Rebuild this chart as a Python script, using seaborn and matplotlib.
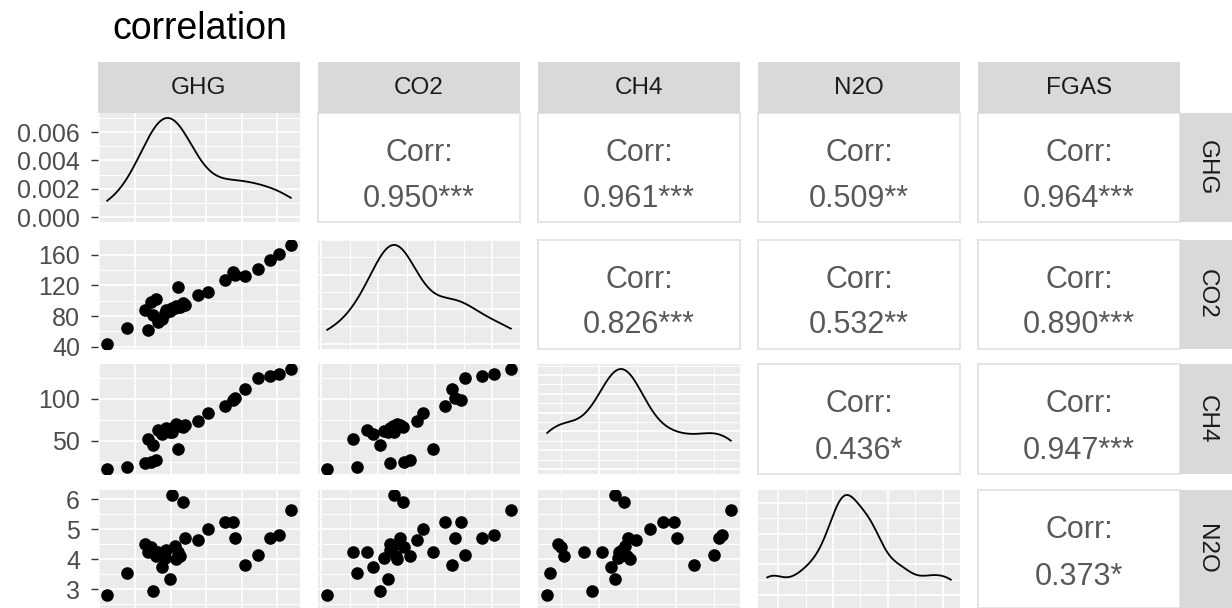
import numpy as np
import pandas as pd
import matplotlib
matplotlib.use("Agg")
import matplotlib.pyplot as plt
from matplotlib.ticker import (MultipleLocator, AutoMinorLocator, MaxNLocator,
                               NullLocator, FormatStrFormatter)
import seaborn as sns

# ---- data: one entry per observation ----
ghg = [111, 139, 164, 169, 172, 175, 179, 182, 188, 192, 194, 199, 202, 206, 208,
       211, 213, 218, 220, 239, 253, 276, 288, 291, 305, 323, 340, 352, 369]
co2 = [44, 65, 88, 62, 98, 81, 102, 72, 76, 84, 88, 87, 91, 90, 93,
       118, 92, 97, 95, 107, 111, 127, 138, 134, 132, 141, 153, 161, 173]
ch4 = [16, 18, 23, 52, 25, 45, 27, 63, 58, 62, 65, 60, 60, 67, 70,
       40, 68, 66, 69, 74, 83, 92, 99, 101, 112, 125, 128, 130, 136]
n2o = [2.80, 3.55, 4.50, 4.25, 4.40, 2.95, 4.10, 4.25, 3.75, 4.05, 4.30, 3.35, 6.15, 4.45, 4.00,
       4.25, 4.10, 5.90, 4.70, 4.65, 5.00, 5.25, 5.25, 4.70, 3.80, 4.15, 4.70, 4.80, 5.65]

row_vars = ["GHG", "CO2", "CH4", "N2O"]
col_vars = ["GHG", "CO2", "CH4", "N2O", "FGAS"]

# upper-triangle correlation labels
corr_pairs = [("GHG", "CO2"), ("GHG", "CH4"), ("GHG", "N2O"), ("GHG", "FGAS"),
              ("CO2", "CH4"), ("CO2", "N2O"), ("CO2", "FGAS"),
              ("CH4", "N2O"), ("CH4", "FGAS"), ("N2O", "FGAS")]
corr_r = [0.950, 0.961, 0.509, 0.964, 0.826, 0.532, 0.890, 0.436, 0.947, 0.373]
corr_stars = ["***", "***", "**", "***", "***", "**", "***", "*", "***", "*"]

title = "correlation"

df = pd.DataFrame({"GHG": ghg, "CO2": co2, "CH4": ch4, "N2O": n2o})

# ---- styling ----
plt.rcParams["font.family"] = ["Liberation Sans", "DejaVu Sans"]
PANEL_BG = "#EBEBEB"
STRIP_BG = "#D9D9D9"
STRIP_TXT = "#1A1A1A"
TICK_TXT = "#4D4D4D"
CORR_TXT = "#595959"

axis_step = {"GHG": 50, "CO2": 40, "CH4": 50, "N2O": 1}
axis_minor = {"GHG": 1, "CO2": 2, "CH4": 2, "N2O": 2}
density_bins = {"GHG": 4, "CO2": 4, "CH4": 6, "N2O": 4}

W, H = 1232, 608
fig = plt.figure(figsize=(W / 100, H / 100), dpi=100)

col_x = [98, 318, 538, 758, 978]
col_w = 202
row_y = [113, 240, 364, 490]
row_h = [109, 108.5, 110, 118]
base_h = 110.0
strip_h = 51


def rect(x, y, w, h):
    return [x / W, 1 - (y + h) / H, w / W, h / H]


def style_grid(ax):
    ax.set_facecolor(PANEL_BG)
    for s in ax.spines.values():
        s.set_visible(False)
    ax.set_axisbelow(True)
    ax.grid(which="major", color="white", lw=1.2)
    ax.grid(which="minor", color="white", lw=0.7)
    ax.tick_params(which="both", bottom=False, labelbottom=False,
                   left=False, labelleft=False)
    ax.set_xlabel("")
    ax.set_ylabel("")


def data_lim(v):
    lo, hi = min(df[v]), max(df[v])
    r = hi - lo
    return lo - 0.05 * r, hi + 0.05 * r


def set_var_axis(axis, v):
    axis.set_major_locator(MultipleLocator(axis_step[v]))
    if axis_minor[v] > 1:
        axis.set_minor_locator(AutoMinorLocator(axis_minor[v]))
    else:
        axis.set_minor_locator(NullLocator())


def nrd0_factor(x):
    x = np.asarray(x, float)
    sd = np.std(x, ddof=1)
    q75, q25 = np.percentile(x, [75, 25])
    h = 0.9 * min(sd, (q75 - q25) / 1.34) * len(x) ** -0.2
    return h / sd


corr_lookup = {p: (r, s) for p, r, s in zip(corr_pairs, corr_r, corr_stars)}

for i, rv in enumerate(row_vars):
    for j, cv in enumerate(col_vars):
        ax = fig.add_axes(rect(col_x[j], row_y[i], col_w, row_h[i]))
        stretch = row_h[i] / base_h if i == len(row_vars) - 1 else 1.0
        if j > i:
            # correlation text panel
            r, s = corr_lookup[(rv, cv)]
            ax.set_facecolor("white")
            ax.set_xticks([])
            ax.set_yticks([])
            for sp in ax.spines.values():
                sp.set_color("#E3E3E3")
                sp.set_linewidth(1.3)
            yb = np.array([0.562, 0.14])
            if stretch != 1:
                yb = 1.0 - (1.0 - yb) * (base_h / row_h[i])
            ax.text(0.5, yb[0], "Corr:", ha="center", va="baseline",
                    fontsize=22, color=CORR_TXT, transform=ax.transAxes)
            ax.text(0.5, yb[1], f"{r:.3f}{s}", ha="center", va="baseline",
                    fontsize=22, color=CORR_TXT, transform=ax.transAxes)
        elif j == i:
            # marginal density on the diagonal
            sns.kdeplot(x=df[cv], ax=ax, bw_method=nrd0_factor(df[cv]), cut=0,
                        color="black", lw=1.3)
            style_grid(ax)
            ax.set_xlim(*data_lim(cv))
            set_var_axis(ax.xaxis, cv)
            ymax = max(ax.lines[0].get_ydata())
            lo, hi = -0.05 * ymax, 1.05 * ymax
            lo = hi - (hi - lo) * stretch
            ax.set_ylim(lo, hi)
            ax.yaxis.set_major_locator(MaxNLocator(nbins=density_bins[cv],
                                                   steps=[1, 2, 2.5, 5, 10]))
            ax.yaxis.set_minor_locator(AutoMinorLocator(2))
            ax.set_xlabel("")
            ax.set_ylabel("")
        else:
            # scatter of row variable against column variable
            sns.scatterplot(x=df[cv], y=df[rv], ax=ax, color="black", s=82,
                            linewidth=0)
            style_grid(ax)
            ax.set_xlim(*data_lim(cv))
            lo, hi = data_lim(rv)
            lo = hi - (hi - lo) * stretch
            ax.set_ylim(lo, hi)
            set_var_axis(ax.xaxis, cv)
            set_var_axis(ax.yaxis, rv)
        if j == 0:
            ax.tick_params(axis="y", which="major", left=True, labelleft=True,
                           length=5, width=1.0, color="#333333", pad=8,
                           labelsize=18, labelcolor=TICK_TXT)
            if i == 0:
                ax.yaxis.set_major_formatter(FormatStrFormatter("%.3f"))
            else:
                ax.yaxis.set_major_formatter(FormatStrFormatter("%g"))

# column strips along the top
for j, cv in enumerate(col_vars):
    sax = fig.add_axes(rect(col_x[j], row_y[0] - strip_h, col_w, strip_h))
    sax.set_facecolor(STRIP_BG)
    sax.set_xticks([])
    sax.set_yticks([])
    for sp in sax.spines.values():
        sp.set_visible(False)
    sax.text(0.5, 0.5, cv, ha="center", va="center", fontsize=17.5,
             color=STRIP_TXT, transform=sax.transAxes)

# row strips along the right side
strip_x = col_x[-1] + col_w
for i, rv in enumerate(row_vars):
    sax = fig.add_axes(rect(strip_x, row_y[i], strip_h + 2, row_h[i]))
    sax.set_facecolor(STRIP_BG)
    sax.set_xticks([])
    sax.set_yticks([])
    for sp in sax.spines.values():
        sp.set_visible(False)
    sax.text(0.5, 0.5, rv, ha="center", va="center", fontsize=17.5,
             rotation=-90, color=STRIP_TXT, transform=sax.transAxes)

fig.text(112 / W, 1 - 39 / H, title, ha="left", va="baseline",
         fontsize=27, color="black")

fig.savefig("out.png", dpi=100, facecolor="white")
